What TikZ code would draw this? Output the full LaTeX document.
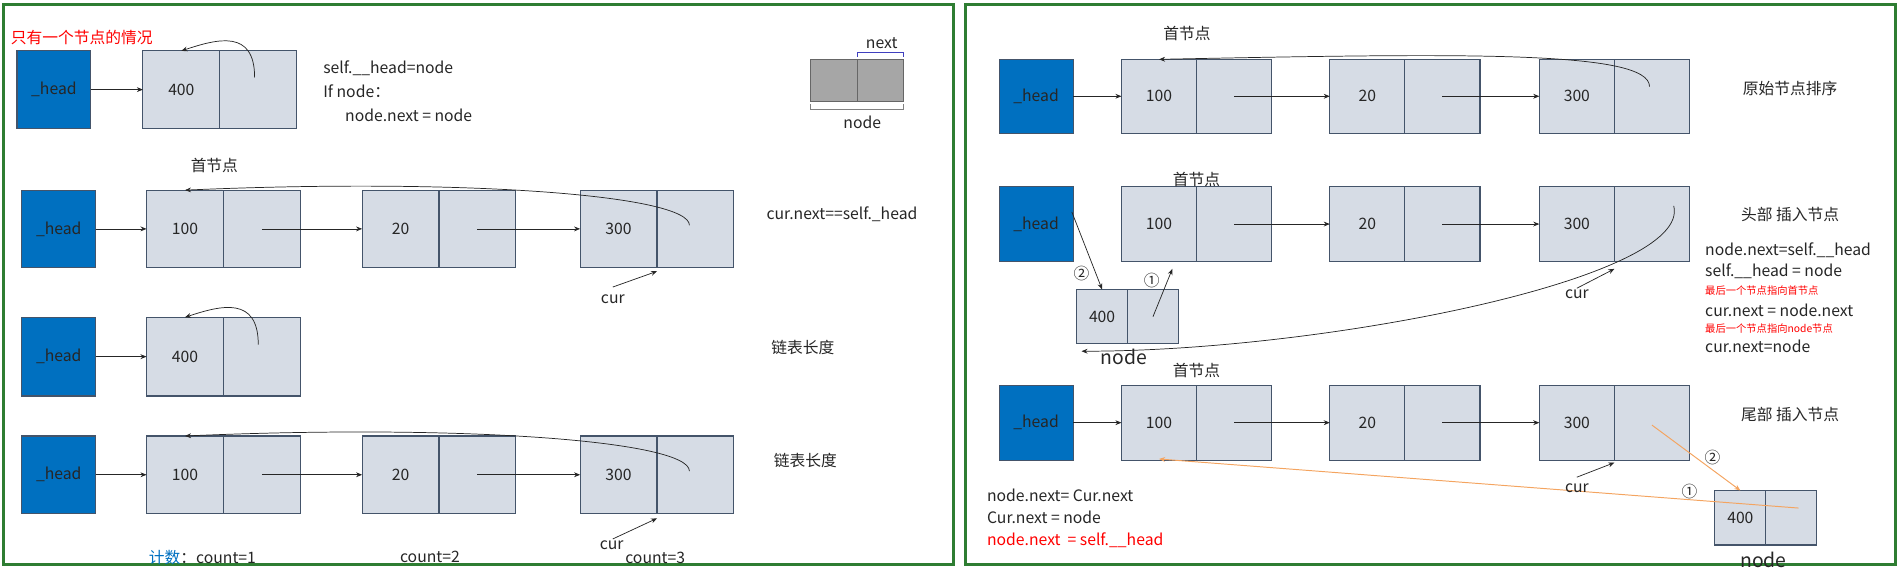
\documentclass[tikz,border=0pt]{standalone}
\usepackage{fontspec}
\setmainfont{Noto Sans CJK SC}
\usetikzlibrary{arrows.meta,calc}
\definecolor{cellf}{HTML}{D6DCE5}
\definecolor{celld}{HTML}{44546A}
\definecolor{headf}{HTML}{0070C0}
\definecolor{frm}{HTML}{2E7D32}
\definecolor{txt}{HTML}{262626}
\definecolor{org}{HTML}{F4A460}
\newcommand\LN[6]{%
 \node[cell,anchor=north west,minimum width=#4,minimum height=#5] (#1a) at (#2,#3) {#6};
 \node[cell,anchor=north west,minimum width=#4,minimum height=#5] (#1b) at (#1a.north east) {};}
\begin{document}
\begin{tikzpicture}[x=1pt,y=-1pt,
  every node/.style={font=\fontsize{13}{15}\selectfont,text=txt,inner sep=0pt,outer sep=0pt},
  cell/.style={draw=celld,fill=cellf,line width=0.9pt},
  head/.style={draw=celld,fill=headf,line width=0.9pt,anchor=north west,minimum width=61pt},
  lbl/.style={anchor=west},
  red/.style={anchor=west,text=red},
  arr/.style={-{Stealth[length=5pt,width=4pt]},line width=0.6pt,draw=txt},
  oarr/.style={-{Stealth[length=5pt,width=4pt]},line width=0.8pt,draw=org}]
\useasboundingbox (0,0) rectangle (1568,470);
\draw[frm,line width=2.5pt] (3,4) rectangle (787,466);
\draw[frm,line width=2.5pt] (797,4) rectangle (1565,466);

% ---------- left panel ----------
\node[red] (t1) at (9,31) {只有一个节点的情况};
\node[head,minimum height=64pt] (h1) at (14,42) {\_head};
\LN{A}{118}{42}{63.5pt}{64pt}{400}
\draw[arr] (h1) -- (Aa);
\draw[arr] ($(Ab.center)+(-3,-10)$) .. controls +(0,-40) and +(30,-10) .. (Aa.north);
\node[lbl] (c1) at (267,56) {self.\_\_head=node};
\node[lbl] (c2) at (267,75) {If node：};
\node[lbl] (c3) at (285,95) {node.next = node};
% legend
\node[draw=gray!80!black,fill=gray!70,line width=0.9pt,anchor=north west,minimum width=39pt,minimum height=35pt] (ga) at (669,49) {};
\node[draw=gray!80!black,fill=gray!70,line width=0.9pt,anchor=north west,minimum width=38pt,minimum height=35pt] (gb) at (ga.north east) {};
\draw[blue!50!gray,line width=0.6pt] ($(gb.north west)+(0,-2)$) -- ++(0,-4) -- ($(gb.north east)+(0,-6)$) -- ++(0,4);
\node (nx) at (728,36) {next};
\draw[gray,line width=0.6pt] ($(ga.south west)+(0,2)$) -- ++(0,4) -- ($(gb.south east)+(0,6)$) -- ++(0,-4);
\node (nd) at (712,101) {node};

% row 2
\node[head,minimum height=64pt] (h2) at (18,157) {\_head};
\LN{B}{121}{157}{63.5pt}{64pt}{100}
\LN{C}{299}{157}{63.5pt}{64pt}{20}
\LN{D}{479}{157}{63.5pt}{64pt}{300}
\draw[arr] (h2) -- (Ba);
\draw[arr] (Bb.center) -- (Ca);
\draw[arr] (Cb.center) -- (Da);
\draw[arr] ($(Db.center)+(-5,-3)$) .. controls +(0,-25) and +(230,-10) .. (Ba.north);
\node (s2) at (177,137) {首节点};
\node[lbl] (k2) at (633,177) {cur.next==self.\_head};
\coordinate (cu2) at (506,237);
\draw[arr] (cu2) -- ($(Da.south east)+(0,3)$);
\node (cur2) at (506,247) {cur};

% row 3
\node[head,minimum height=65pt] (h3) at (18,262) {\_head};
\LN{E}{121}{262}{63.5pt}{65pt}{400}
\draw[arr] (h3) -- (Ea);
\draw[arr] ($(Eb.center)+(-3,-10)$) .. controls +(0,-40) and +(30,-10) .. (Ea.north);
\node (l3) at (663,287) {链表长度};

% row 4
\node[head,minimum height=64pt] (h4) at (18,360) {\_head};
\LN{F}{121}{360}{63.5pt}{64pt}{100}
\LN{G}{299}{360}{63.5pt}{64pt}{20}
\LN{H}{479}{360}{63.5pt}{64pt}{300}
\draw[arr] (h4) -- (Fa);
\draw[arr] (Fb.center) -- (Ga);
\draw[arr] (Gb.center) -- (Ha);
\draw[arr] ($(Hb.center)+(-5,-3)$) .. controls +(0,-25) and +(230,-10) .. (Fa.north);
\node (l4) at (665,380) {链表长度};
\coordinate (cu4) at (506,445);
\draw[arr] (cu4) -- ($(Ha.south east)+(0,4)$);
\node (cur4) at (505,450) {cur};
\node[lbl] (n1) at (123,460) {\textcolor{headf}{计数}：count=1};
\node (n2) at (355,460) {count=2};
\node (n3) at (541,461) {count=3};

% ---------- right panel ----------
% row 1
\node[head,minimum height=61pt] (r1h) at (825,49) {\_head};
\LN{P}{926}{49}{62pt}{61pt}{100}
\LN{Q}{1098}{49}{62pt}{61pt}{20}
\LN{R}{1271}{49}{62pt}{61pt}{300}
\draw[arr] (r1h) -- (Pa);
\draw[arr] (Pb.center) -- (Qa);
\draw[arr] (Qb.center) -- (Ra);
\draw[arr] ($(Rb.center)+(-2,-8)$) .. controls +(0,-30) and +(250,-5) .. (Pa.north);
\node (s1r) at (980,28) {首节点};
\node (o1) at (1478,73) {原始节点排序};

% row 2
\node[head,minimum height=62pt] (r2h) at (825,154) {\_head};
\LN{S}{926}{154}{62pt}{62pt}{100}
\LN{T}{1098}{154}{62pt}{62pt}{20}
\LN{U}{1271}{154}{62pt}{62pt}{300}
\draw[arr] (Sb.center) -- (Ta);
\draw[arr] (Tb.center) -- (Ua);
\node (s2r) at (988,148) {首节点};
\LN{V}{889}{239}{42pt}{45pt}{400}
\node[font=\fontsize{16}{18}\selectfont] (vn) at (928,295) {node};
\draw[arr] ($(r2h.east)+(-1,-10)$) -- (Va.north);
\draw[arr] (Vb.center) -- ($(Sa.south east)+(-20,6)$);
\node (c2a) at (893,226) {②};
\node (c1a) at (951,232) {①};
\draw[arr] ($(Ub.center)+(18,-15)$) .. controls +(15,60) and +(200,0) .. ($(Va.south east)+(-38,6)$);
\coordinate (cu5) at (1302,232);
\draw[arr] (1302,238) -- ($(Ua.south east)+(0,6)$);
\node (cur5) at (1302,243) {cur};
\node (hd) at (1478,177) {头部 插入节点};
\node[lbl] (e1) at (1408,207) {node.next=self.\_\_head};
\node[lbl] (e2) at (1408,224) {self.\_\_head = node};
\node[red,font=\fontsize{8.5}{10}\selectfont] (e3) at (1408,240) {最后一个节点指向首节点};
\node[lbl] (e4) at (1408,256) {cur.next = node.next};
\node[red,font=\fontsize{8.5}{10}\selectfont] (e5) at (1408,271) {最后一个节点指向node节点};
\node[lbl] (e6) at (1408,286) {cur.next=node};

% row 3
\node[head,minimum height=62pt] (r3h) at (825,318) {\_head};
\LN{W}{926}{318}{62pt}{62pt}{100}
\LN{X}{1098}{318}{62pt}{62pt}{20}
\LN{Y}{1271}{318}{62pt}{62pt}{300}
\draw[arr] (r3h) -- (Wa);
\draw[arr] (Wb.center) -- (Xa);
\draw[arr] (Xb.center) -- (Ya);
\node (s3r) at (988,306) {首节点};
\node (tl) at (1478,342) {尾部 插入节点};
\LN{Z}{1416}{405}{42pt}{45pt}{400}
\node[font=\fontsize{16}{18}\selectfont] (zn) at (1456,462) {node};
\draw[oarr] ($(Yb.center)+(0,2)$) -- (Za.north);
\draw[oarr] ($(Zb.center)+(6,-8)$) -- ($(Wa.south)+(0,-1)$);
\node (c2b) at (1414,378) {②};
\node (c1b) at (1395,406) {①};
\draw[arr] (1302,394) -- ($(Ya.south east)+(0,2)$);
\node (cur6) at (1302,403) {cur};
\node[lbl] (f1) at (815,409) {node.next= Cur.next};
\node[lbl] (f2) at (815,427) {Cur.next = node};
\node[red] (f3) at (815,446) {node.next \ = self.\_\_head};
\end{tikzpicture}
\end{document}
